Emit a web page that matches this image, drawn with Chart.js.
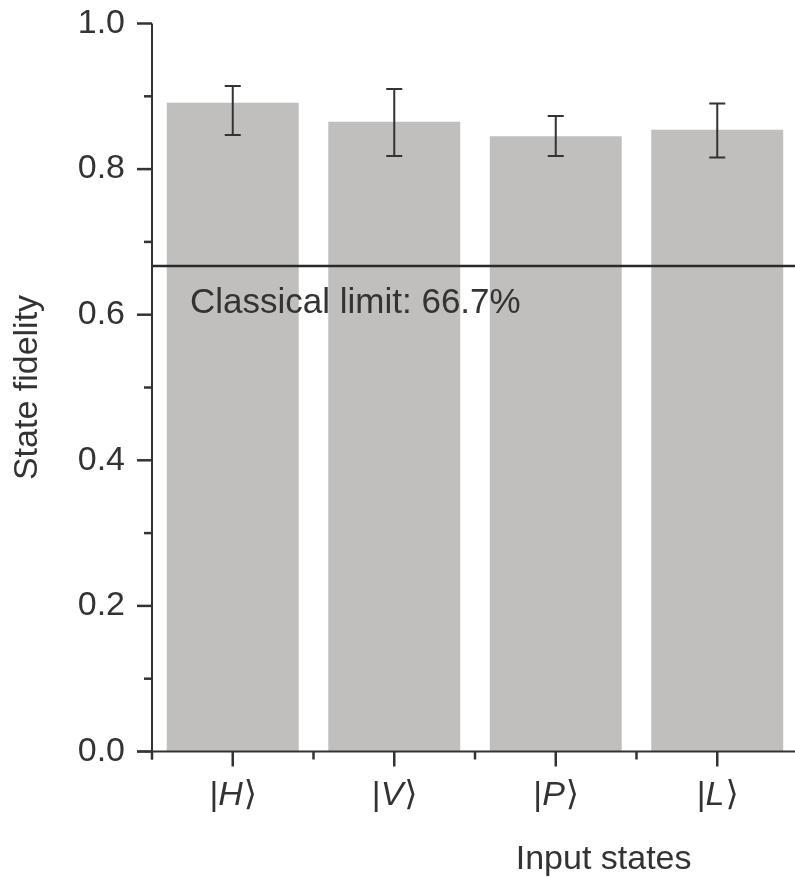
<!DOCTYPE html>
<html><head><meta charset="utf-8">
<script src="https://cdn.jsdelivr.net/npm/chart.js@4/dist/chart.umd.min.js"></script>
<style>
html,body{margin:0;padding:0;background:#fff;overflow:hidden;}
#wrap{position:absolute;left:0;top:0;width:800px;height:877px;}
</style></head><body>
<div id="wrap"><canvas id="c" width="800" height="877"></canvas></div>
<script>
// ---- data ----
const stateLetters = ['H', 'V', 'P', 'L'];
const fidelity = [0.891, 0.865, 0.845, 0.854];
const errLower = [0.847, 0.818, 0.818, 0.816];
const errUpper = [0.914, 0.910, 0.873, 0.890];
const classicalLimit = 0.667;
const classicalLabel = 'Classical limit: 66.7%';
const yTitle = 'State fidelity';
const xTitle = 'Input states';
const yMin = 0, yMax = 1, yMinorStep = 0.1;

const FONT = "'Liberation Sans', Arial, Helvetica, 'DejaVu Sans', sans-serif";
const TEXT = '#333333';
const AXIS = '#333333';
const labels = stateLetters.map(s => '|' + s + '\u27E9');

const decorations = {
  id: 'decorations',
  afterDatasetsDraw(chart) {
    const {ctx, chartArea: ca, scales: {x, y}} = chart;
    ctx.save();
    // classical limit line
    const yl = y.getPixelForValue(classicalLimit);
    ctx.strokeStyle = '#2a2a2a';
    ctx.lineWidth = 2.5;
    ctx.beginPath(); ctx.moveTo(ca.left, yl); ctx.lineTo(ca.right, yl); ctx.stroke();
    ctx.fillStyle = TEXT;
    ctx.font = '35px ' + FONT;
    ctx.textAlign = 'left'; ctx.textBaseline = 'alphabetic';
    ctx.fillText(classicalLabel, ca.left + 38, yl + 47);

    // error bars
    ctx.strokeStyle = '#333';
    ctx.lineWidth = 2;
    fidelity.forEach((v, i) => {
      const cx = x.getPixelForValue(i);
      const yt = y.getPixelForValue(errUpper[i]);
      const yb = y.getPixelForValue(errLower[i]);
      ctx.beginPath();
      ctx.moveTo(cx, yt); ctx.lineTo(cx, yb);
      ctx.moveTo(cx - 8, yt); ctx.lineTo(cx + 8, yt);
      ctx.moveTo(cx - 8, yb); ctx.lineTo(cx + 8, yb);
      ctx.stroke();
    });

    // axes
    ctx.strokeStyle = AXIS;
    ctx.lineWidth = 2;
    const y0 = y.getPixelForValue(yMin);
    ctx.beginPath();
    ctx.moveTo(ca.left, y.getPixelForValue(yMax));
    ctx.lineTo(ca.left, y0 + 8);
    ctx.moveTo(ca.left - 15, y0);
    ctx.lineTo(ca.right + 5, y0);
    ctx.stroke();
    ctx.lineWidth = 2.5;
    y.ticks.forEach(t => {
      const major = Math.round(t.value / yMinorStep) % 2 === 0;
      const py = y.getPixelForValue(t.value);
      ctx.beginPath();
      ctx.moveTo(ca.left - (major ? 15 : 8), py);
      ctx.lineTo(ca.left, py);
      ctx.stroke();
    });
    for (let i = 0; i <= stateLetters.length; i++) {
      const px = x.getPixelForValue(i - 0.5);
      ctx.beginPath(); ctx.moveTo(px, y0); ctx.lineTo(px, y0 + 8); ctx.stroke();
    }
    stateLetters.forEach((s, i) => {
      const px = x.getPixelForValue(i);
      ctx.beginPath(); ctx.moveTo(px, y0); ctx.lineTo(px, y0 + 15); ctx.stroke();
    });

    // x tick labels |X> with italic letter
    ctx.fillStyle = TEXT;
    const upright = '34px ' + FONT;
    const italic = 'italic 34px ' + FONT;
    stateLetters.forEach((s, i) => {
      const px = x.getPixelForValue(i);
      ctx.font = upright; const w1 = ctx.measureText('|').width;
      const w3 = ctx.measureText('\u27E9').width;
      ctx.font = italic; const w2 = ctx.measureText(s).width;
      let sx = px - (w1 + w2 + w3) / 2;
      const by = y0 + 53;
      ctx.textAlign = 'left';
      ctx.font = upright; ctx.fillText('|', sx, by); sx += w1;
      ctx.font = italic; ctx.fillText(s, sx, by); sx += w2 + 1;
      ctx.font = upright; ctx.fillText('\u27E9', sx, by);
    });

    // x axis title
    ctx.font = '34px ' + FONT;
    ctx.textAlign = 'left';
    ctx.fillText(xTitle, x.getPixelForValue(2) - 40, y0 + 117);
    ctx.restore();
  }
};

new Chart(document.getElementById('c'), {
  type: 'bar',
  data: {
    labels: labels,
    datasets: [{
      data: fidelity,
      backgroundColor: '#c0bfbd',
      borderWidth: 0,
      barPercentage: 0.817,
      categoryPercentage: 1.0
    }]
  },
  options: {
    responsive: false,
    animation: false,
    devicePixelRatio: 1,
    layout: {padding: {top: 23.5, left: 0, right: 2, bottom: 0}},
    plugins: {legend: {display: false}, tooltip: {enabled: false}},
    scales: {
      x: {
        grid: {display: false, drawTicks: false},
        border: {display: false},
        ticks: {display: false},
        afterFit(s) { s.height = 125.5; s.paddingLeft = 0; s.paddingRight = 0; }
      },
      y: {
        min: yMin, max: yMax,
        grid: {display: false, drawTicks: false},
        border: {display: false},
        ticks: {
          stepSize: yMinorStep, autoSkip: false, padding: 27, color: TEXT,
          font: {family: FONT, size: 34},
          callback: (v) => (Math.round(v / yMinorStep) % 2 === 0 ? v.toFixed(1) : '')
        },
        title: {display: true, text: yTitle, color: TEXT, font: {family: FONT, size: 34}, padding: {top: 7, bottom: 0}},
        afterFit(s) { s.width = 152; s.paddingTop = 0; s.paddingBottom = 0; }
      }
    }
  },
  plugins: [decorations]
});
</script>
</body></html>
